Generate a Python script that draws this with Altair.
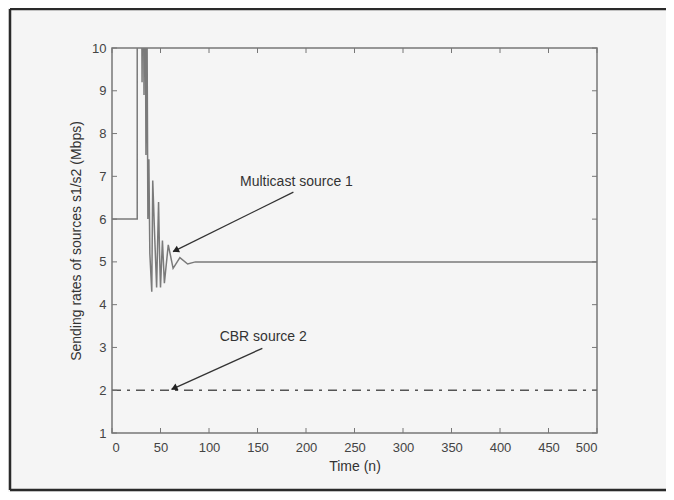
import altair as alt
import pandas as pd

# Multicast source 1 (solid)
mc_t = [0, 26, 26, 30, 31, 32, 33, 34, 35, 36, 37, 38, 39, 41, 42, 44, 46, 48, 49, 50, 52, 54, 58, 63, 70, 78, 86, 500]
mc_v = [6, 6, 14, 14, 9.2, 13, 8.9, 13, 7.5, 11, 6.0, 7.4, 5.2, 4.3, 6.9, 5.6, 4.4, 6.4, 5.2, 4.4, 5.5, 4.5, 5.4, 4.85, 5.1, 4.95, 5.0, 5.0]

# CBR source 2 (dash-dot)
cbr_t = [0, 500]
cbr_v = [2, 2]

x_ticks = [0, 50, 100, 150, 200, 250, 300, 350, 400, 450, 500]
y_ticks = [1, 2, 3, 4, 5, 6, 7, 8, 9, 10]

ann_text = ["Multicast source 1", "CBR source 2"]
ann_t = [132, 111]
ann_v = [6.87, 3.25]
arr_t0 = [187, 155]
arr_v0 = [6.63, 2.98]
arr_t1 = [63, 61.5]
arr_v1 = [5.24, 2.02]
head_t = [66.5, 65.0]
head_v = [5.28, 2.06]
head_angle = [243.7, 245.7]

FONT = "Liberation Sans"
W, H = 485, 385
PAD_R = 69

xs = alt.Scale(domain=[0, 500], nice=False, zero=False)
ys = alt.Scale(domain=[1, 10], nice=False, zero=False)

mc = pd.DataFrame({"t": mc_t, "v": mc_v, "i": list(range(len(mc_t)))})
cbr = pd.DataFrame({"t": cbr_t, "v": cbr_v})
xt = pd.DataFrame({"t": x_ticks})
yt = pd.DataFrame({"v": y_ticks})
ann = pd.DataFrame({"label": ann_text, "t": ann_t, "v": ann_v})
arr = pd.DataFrame({"t0": arr_t0, "v0": arr_v0, "t1": arr_t1, "v1": arr_v1})
heads = pd.DataFrame({"t": head_t, "v": head_v, "a": head_angle})

one = pd.DataFrame({"k": [0]})
frame_style = dict(color="#2a2a2a", strokeWidth=2.5)
frame_top = alt.Chart(one).mark_rule(**frame_style).encode(
    x=alt.value(-102), x2=alt.value(W + PAD_R), y=alt.value(-39))
frame_bottom = alt.Chart(one).mark_rule(**frame_style).encode(
    x=alt.value(-102), x2=alt.value(W + PAD_R), y=alt.value(H + 57))
frame_left = alt.Chart(one).mark_rule(**frame_style).encode(
    x=alt.value(-102), y=alt.value(-39), y2=alt.value(H + 57))

mc_line = alt.Chart(mc).mark_line(clip=True, color="#7a7a7a", strokeWidth=1.5).encode(
    x=alt.X("t:Q", scale=xs, axis=alt.Axis(
        values=x_ticks, title="Time (n)", ticks=False, domain=False, grid=False,
        labelPadding=8, titlePadding=5)),
    y=alt.Y("v:Q", scale=ys, axis=alt.Axis(
        values=y_ticks, title="Sending rates of sources s1/s2 (Mbps)", ticks=False,
        domain=False, grid=False, labelPadding=6, titlePadding=8)),
    order="i:Q",
)

cbr_line = alt.Chart(cbr).mark_line(
    color="#555555", strokeWidth=1.6, strokeDash=[9, 6, 3, 6]
).encode(x=alt.X("t:Q", scale=xs), y=alt.Y("v:Q", scale=ys))

tick_style = dict(color="#777777", strokeWidth=1)
xb = alt.Chart(xt).mark_rule(**tick_style).encode(
    x=alt.X("t:Q", scale=xs), y=alt.value(H), y2=alt.value(H - 5))
xtop = alt.Chart(xt).mark_rule(**tick_style).encode(
    x=alt.X("t:Q", scale=xs), y=alt.value(0), y2=alt.value(5))
yl = alt.Chart(yt).mark_rule(**tick_style).encode(
    y=alt.Y("v:Q", scale=ys), x=alt.value(0), x2=alt.value(5))
yr = alt.Chart(yt).mark_rule(**tick_style).encode(
    y=alt.Y("v:Q", scale=ys), x=alt.value(W), x2=alt.value(W - 5))

arrows = alt.Chart(arr).mark_rule(color="#333333", strokeWidth=1.3).encode(
    x=alt.X("t0:Q", scale=xs), y=alt.Y("v0:Q", scale=ys),
    x2="t1:Q", y2="v1:Q")

arrow_heads = alt.Chart(heads).mark_point(
    shape="triangle", filled=True, color="#222222", size=55, opacity=1
).encode(
    x=alt.X("t:Q", scale=xs), y=alt.Y("v:Q", scale=ys), angle=alt.Angle("a:Q", scale=None))

labels = alt.Chart(ann).mark_text(
    align="left", baseline="middle", font=FONT, fontSize=14, color="#333333"
).encode(x=alt.X("t:Q", scale=xs), y=alt.Y("v:Q", scale=ys), text="label:N")

chart = alt.layer(
    frame_top, frame_bottom, frame_left, cbr_line, mc_line,
    xb, xtop, yl, yr, arrows, arrow_heads, labels
).properties(
    width=W, height=H,
    autosize=alt.AutoSizeParams(type="none"),
    padding={"left": 104, "top": 40, "right": PAD_R, "bottom": 59},
    background="#f5f5f5",
).configure_view(
    stroke="#777777", strokeWidth=1.5
).configure_axis(
    labelFont=FONT, labelFontSize=13, labelColor="#444444",
    titleFont=FONT, titleFontSize=14, titleFontWeight="normal", titleColor="#333333",
)

chart.save("out.html", embed_options={"renderer": "svg", "actions": False})
